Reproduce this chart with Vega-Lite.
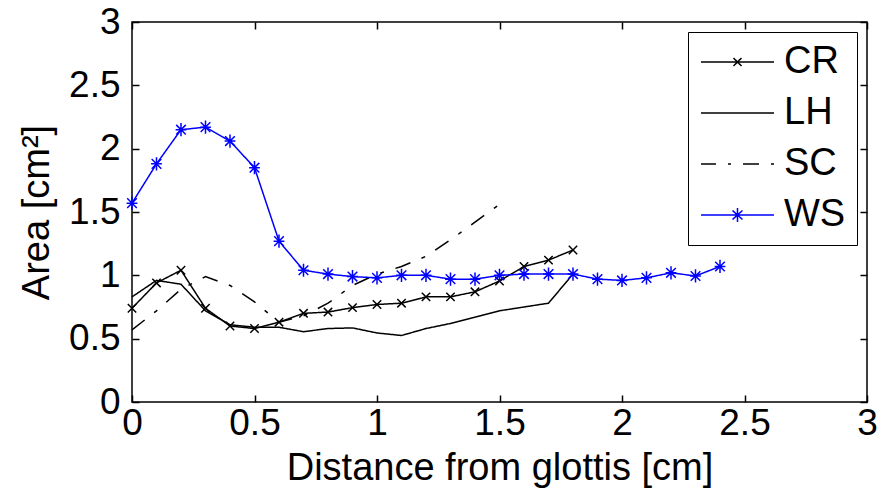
{
  "$schema": "https://vega.github.io/schema/vega-lite/v6.json",
  "width": 735,
  "height": 380,
  "autosize": "none",
  "padding": {"left": 132, "top": 22, "right": 19, "bottom": 93},
  "background": "white",
  "config": {
    "font": "Liberation Sans",
    "view": {"stroke": "#000", "strokeWidth": 1.5},
    "axis": {
      "labelFont": "Liberation Sans", "labelFontSize": 37, "labelColor": "#000",
      "titleFont": "Liberation Sans", "titleFontSize": 38, "titleFontWeight": "normal", "titleColor": "#000",
      "tickColor": "#000", "tickSize": -7, "tickWidth": 1.5, "domain": false, "grid": false,
      "labelFlush": false, "labelOverlap": false, "labelBound": false
    },
    "legend": {
      "orient": "top-right", "offset": 10, "padding": 11, "rowPadding": 13,
      "strokeColor": "#000", "fillColor": "#fff",
      "labelFont": "Liberation Sans", "labelFontSize": 38, "labelColor": "#000",
      "labelOffset": 47, "symbolSize": 400, "symbolStrokeWidth": 1.5, "title": null
    }
  },
  "datasets": {
    "curves": [
      {"series": "CR", "x": 0.0, "y": 0.74},
      {"series": "CR", "x": 0.1, "y": 0.94},
      {"series": "CR", "x": 0.2, "y": 1.04},
      {"series": "CR", "x": 0.3, "y": 0.74},
      {"series": "CR", "x": 0.4, "y": 0.60},
      {"series": "CR", "x": 0.5, "y": 0.58},
      {"series": "CR", "x": 0.6, "y": 0.63},
      {"series": "CR", "x": 0.7, "y": 0.70},
      {"series": "CR", "x": 0.8, "y": 0.71},
      {"series": "CR", "x": 0.9, "y": 0.745},
      {"series": "CR", "x": 1.0, "y": 0.77},
      {"series": "CR", "x": 1.1, "y": 0.78},
      {"series": "CR", "x": 1.2, "y": 0.83},
      {"series": "CR", "x": 1.3, "y": 0.83},
      {"series": "CR", "x": 1.4, "y": 0.87},
      {"series": "CR", "x": 1.5, "y": 0.955},
      {"series": "CR", "x": 1.6, "y": 1.07},
      {"series": "CR", "x": 1.7, "y": 1.12},
      {"series": "CR", "x": 1.8, "y": 1.2},
      {"series": "LH", "x": 0.0, "y": 0.83},
      {"series": "LH", "x": 0.1, "y": 0.96},
      {"series": "LH", "x": 0.2, "y": 0.93},
      {"series": "LH", "x": 0.3, "y": 0.72},
      {"series": "LH", "x": 0.4, "y": 0.61},
      {"series": "LH", "x": 0.5, "y": 0.59},
      {"series": "LH", "x": 0.6, "y": 0.59},
      {"series": "LH", "x": 0.7, "y": 0.555},
      {"series": "LH", "x": 0.8, "y": 0.58},
      {"series": "LH", "x": 0.9, "y": 0.585},
      {"series": "LH", "x": 1.0, "y": 0.545},
      {"series": "LH", "x": 1.1, "y": 0.525},
      {"series": "LH", "x": 1.2, "y": 0.58},
      {"series": "LH", "x": 1.3, "y": 0.62},
      {"series": "LH", "x": 1.4, "y": 0.67},
      {"series": "LH", "x": 1.5, "y": 0.72},
      {"series": "LH", "x": 1.6, "y": 0.75},
      {"series": "LH", "x": 1.7, "y": 0.78},
      {"series": "LH", "x": 1.8, "y": 1.01},
      {"series": "SC", "x": 0.0, "y": 0.57},
      {"series": "SC", "x": 0.1, "y": 0.72},
      {"series": "SC", "x": 0.2, "y": 0.89},
      {"series": "SC", "x": 0.3, "y": 0.99},
      {"series": "SC", "x": 0.4, "y": 0.92},
      {"series": "SC", "x": 0.5, "y": 0.79},
      {"series": "SC", "x": 0.6, "y": 0.63},
      {"series": "SC", "x": 0.7, "y": 0.68},
      {"series": "SC", "x": 0.8, "y": 0.78},
      {"series": "SC", "x": 0.9, "y": 0.92},
      {"series": "SC", "x": 1.0, "y": 1.01},
      {"series": "SC", "x": 1.1, "y": 1.07},
      {"series": "SC", "x": 1.2, "y": 1.15},
      {"series": "SC", "x": 1.3, "y": 1.28},
      {"series": "SC", "x": 1.4, "y": 1.42},
      {"series": "SC", "x": 1.5, "y": 1.56},
      {"series": "WS", "x": 0.0, "y": 1.57},
      {"series": "WS", "x": 0.1, "y": 1.88},
      {"series": "WS", "x": 0.2, "y": 2.15},
      {"series": "WS", "x": 0.3, "y": 2.17},
      {"series": "WS", "x": 0.4, "y": 2.06},
      {"series": "WS", "x": 0.5, "y": 1.85},
      {"series": "WS", "x": 0.6, "y": 1.27},
      {"series": "WS", "x": 0.7, "y": 1.04},
      {"series": "WS", "x": 0.8, "y": 1.01},
      {"series": "WS", "x": 0.9, "y": 0.99},
      {"series": "WS", "x": 1.0, "y": 0.98},
      {"series": "WS", "x": 1.1, "y": 1.0},
      {"series": "WS", "x": 1.2, "y": 1.0},
      {"series": "WS", "x": 1.3, "y": 0.97},
      {"series": "WS", "x": 1.4, "y": 0.97},
      {"series": "WS", "x": 1.5, "y": 1.0},
      {"series": "WS", "x": 1.6, "y": 1.01},
      {"series": "WS", "x": 1.7, "y": 1.01},
      {"series": "WS", "x": 1.8, "y": 1.01},
      {"series": "WS", "x": 1.9, "y": 0.97},
      {"series": "WS", "x": 2.0, "y": 0.96},
      {"series": "WS", "x": 2.1, "y": 0.98},
      {"series": "WS", "x": 2.2, "y": 1.02},
      {"series": "WS", "x": 2.3, "y": 0.995},
      {"series": "WS", "x": 2.4, "y": 1.07}
    ]
  },
  "data": {"name": "curves"},
  "layer": [
    {
      "mark": {"type": "line", "strokeWidth": 1.5},
      "encoding": {
        "x": {"field": "x", "type": "quantitative", "scale": {"domain": [0, 3], "nice": false, "zero": false},
              "axis": {"values": [0, 0.5, 1, 1.5, 2, 2.5, 3], "format": "~g", "title": "Distance from glottis [cm]", "labelPadding": 10, "titlePadding": 8}},
        "y": {"field": "y", "type": "quantitative", "scale": {"domain": [0, 3], "nice": false},
              "axis": {"values": [0, 0.5, 1, 1.5, 2, 2.5, 3], "format": "~g", "title": "Area [cm²]", "labelPadding": 19, "titlePadding": 12}},
        "color": {"field": "series", "type": "nominal",
                  "scale": {"domain": ["CR", "LH", "SC", "WS"], "range": ["#000000", "#000000", "#000000", "#0000ff"]},
                  "legend": {
                    "encode": {"symbols": {"update": {
                      "shape": {"signal": "datum.value === 'CR' ? 'M-1.7,0H5.6M1.55,-0.4L2.35,0.4M1.55,0.4L2.35,-0.4' : datum.value === 'LH' ? 'M-1.7,0H5.6' : datum.value === 'SC' ? 'M-1.7,0H-0.2M1.0,0H1.3M2.5,0H4.2M5.3,0H5.6' : 'M-1.7,0H5.6M1.95,-0.7V0.7M1.45,-0.45L2.45,0.45M1.45,0.45L2.45,-0.45'"},
                      "strokeDash": {"value": [1, 0]},
                      "fill": {"value": "transparent"}
                    }}}
                  }},
        "strokeDash": {"field": "series", "type": "nominal",
                       "scale": {"domain": ["CR", "LH", "SC", "WS"], "range": [[1, 0], [1, 0], [16, 12, 4, 12], [1, 0]]},
                       "legend": null}
      }
    },
    {
      "transform": [{"filter": "datum.series === 'CR' || datum.series === 'WS'"}],
      "mark": {"type": "point", "filled": false, "strokeWidth": 1.5, "size": 144, "opacity": 1},
      "encoding": {
        "x": {"field": "x", "type": "quantitative", "axis": null},
        "y": {"field": "y", "type": "quantitative", "axis": null},
        "color": {"field": "series", "type": "nominal", "legend": null},
        "shape": {"field": "series", "type": "nominal",
                  "scale": {"domain": ["CR", "WS"], "range": ["M-0.7,-0.7L0.7,0.7M-0.7,0.7L0.7,-0.7", "M0,-1.1V1.1M-0.8,-0.8L0.8,0.8M-0.8,0.8L0.8,-0.8M-0.9,0H0.9"]},
                  "legend": null}
      }
    },
    {
      "mark": {"type": "line", "strokeOpacity": 0},
      "encoding": {
        "x": {"field": "x", "type": "quantitative", "axis": {"orient": "top", "values": [0, 0.5, 1, 1.5, 2, 2.5, 3], "labels": false, "title": null}},
        "y": {"field": "y", "type": "quantitative", "axis": {"orient": "right", "values": [0, 0.5, 1, 1.5, 2, 2.5, 3], "labels": false, "title": null}},
        "detail": {"field": "series", "type": "nominal"}
      }
    }
  ],
  "resolve": {"axis": {"x": "independent", "y": "independent"}}
}
